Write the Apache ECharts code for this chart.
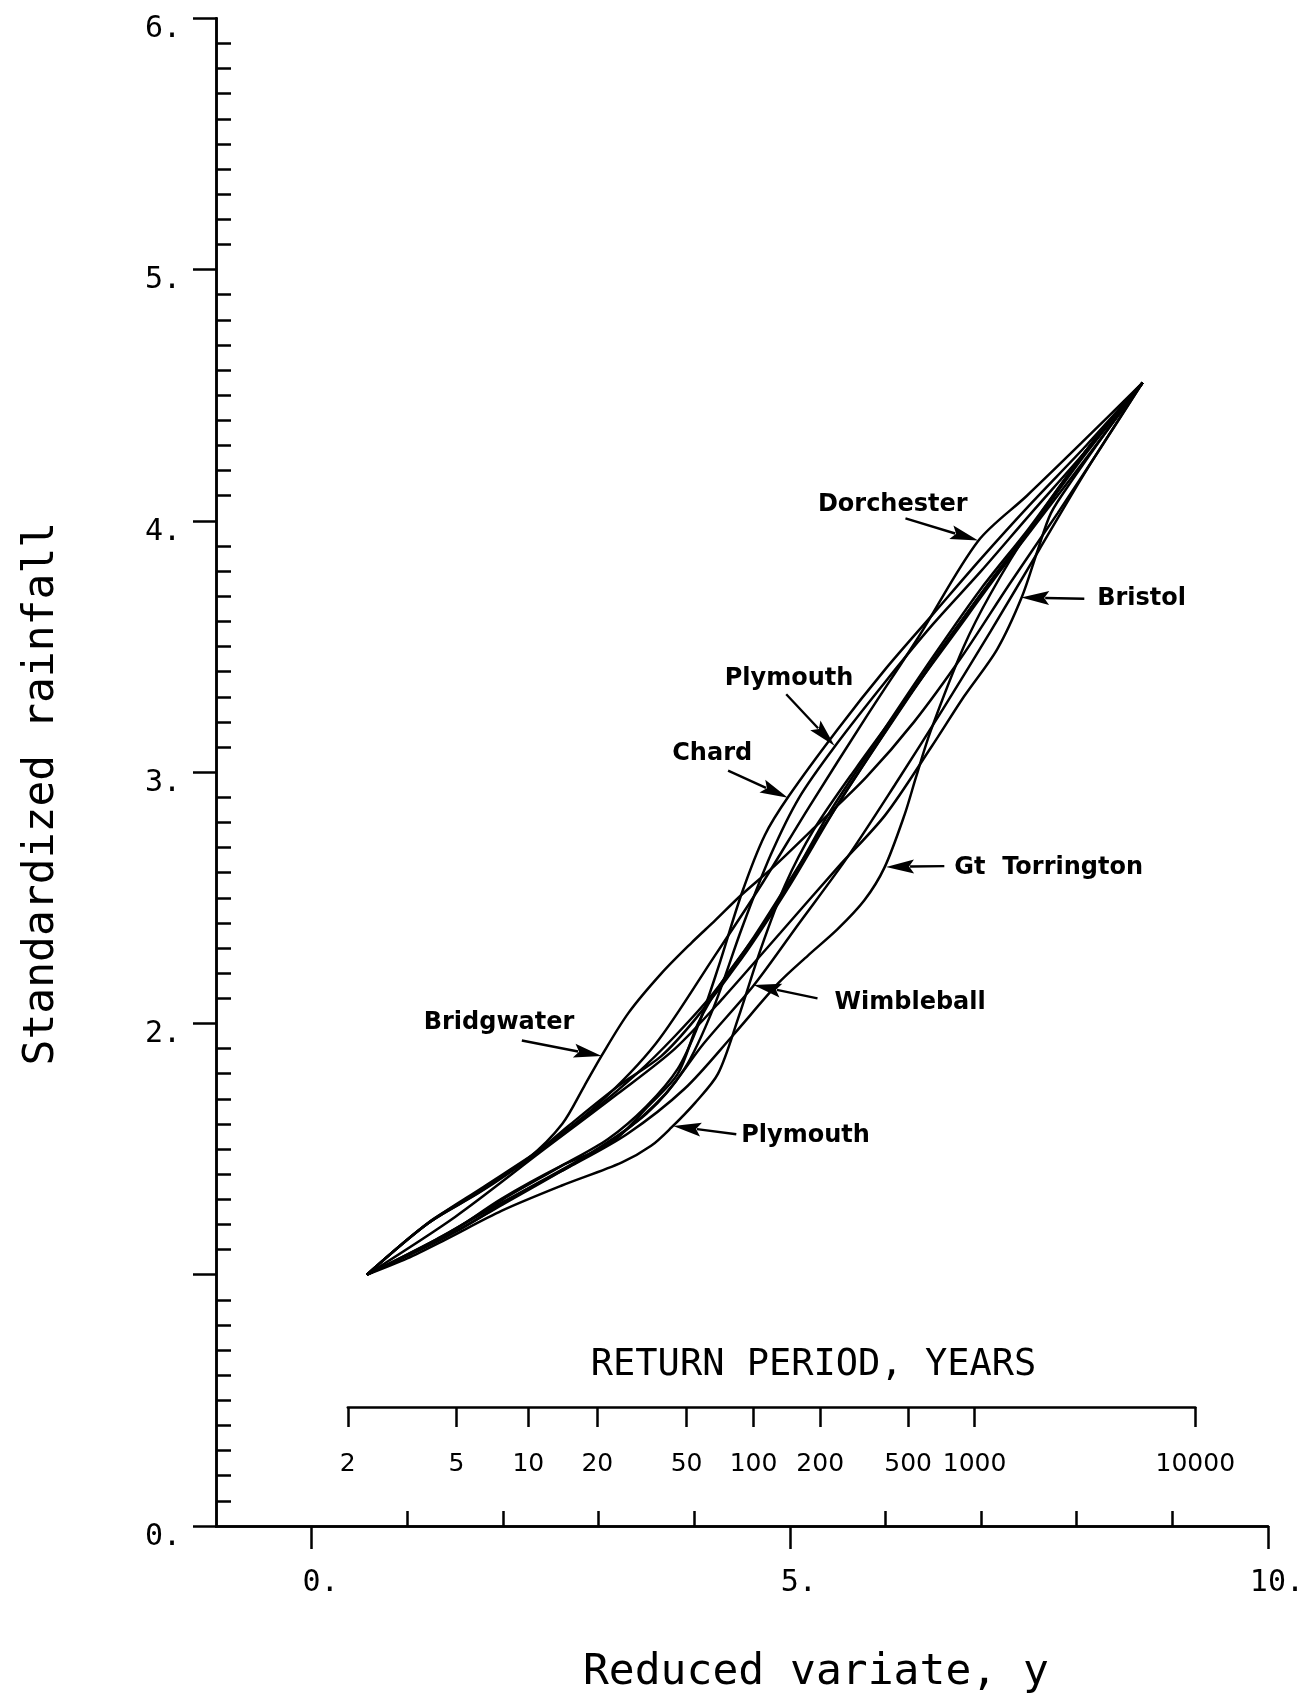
<!DOCTYPE html>
<html>
<head>
<meta charset="utf-8">
<script src="https://cdn.jsdelivr.net/npm/echarts@6/dist/echarts.min.js"></script>
<style>
html,body{margin:0;padding:0;background:#ffffff;}
#chart{width:1307px;height:1699px;}
</style>
</head>
<body>
<div id="chart"></div>
<script>
// ---------------- data ----------------
// reduced variate (x) , standardized rainfall (y)
const bridgwater = [[0.577,1.00],[1.23,1.21],[1.75,1.33],[2.27,1.465],[2.62,1.60],[2.85,1.75],[3.03,1.87],[3.31,2.04],[3.66,2.20],[3.97,2.32],[4.22,2.41],[4.49,2.51],[4.85,2.63],[5.26,2.78],[5.8,2.98],[6.3,3.2],[6.8,3.46],[7.3,3.75],[7.8,4.03],[8.25,4.29],[8.69,4.55]];
const dorchester = [[0.577,1.00],[1.2,1.2],[1.8,1.34],[2.4,1.5],[3.0,1.68],[3.6,1.92],[4.2,2.26],[4.7,2.55],[5.2,2.86],[5.8,3.22],[6.35,3.54],[6.97,3.92],[7.48,4.10],[8.05,4.31],[8.69,4.55]];
const chard = [[0.577,1.00],[1.4,1.16],[2.0,1.30],[2.6,1.43],[3.1,1.54],[3.5,1.67],[3.83,1.82],[4.05,2.0],[4.25,2.22],[4.5,2.52],[4.74,2.75],[4.99,2.905],[5.5,3.17],[6.0,3.41],[6.5,3.63],[7.0,3.85],[7.5,4.06],[8.1,4.30],[8.69,4.55]];
const plymouthUpper = [[0.577,1.00],[1.5,1.17],[2.2,1.33],[2.9,1.48],[3.5,1.64],[3.9,1.82],[4.2,2.06],[4.5,2.38],[4.8,2.67],[5.1,2.9],[5.48,3.107],[6.0,3.36],[6.5,3.59],[7.0,3.80],[7.5,4.02],[8.1,4.28],[8.69,4.55]];
const plymouthLower = [[0.577,1.00],[1.0,1.065],[1.4,1.14],[1.99,1.255],[2.61,1.354],[3.24,1.446],[3.55,1.513],[3.76,1.585],[4.01,1.684],[4.25,1.80],[4.46,2.02],[4.7,2.3],[4.95,2.55],[5.25,2.77],[5.7,3.02],[6.2,3.28],[6.7,3.54],[7.2,3.80],[7.7,4.05],[8.2,4.30],[8.69,4.55]];
const gtTorrington = [[0.577,1.00],[1.3,1.14],[2.0,1.29],[2.7,1.43],[3.3,1.56],[3.9,1.74],[4.4,1.95],[4.88,2.16],[5.19,2.27],[5.5,2.375],[5.78,2.49],[5.99,2.62],[6.2,2.83],[6.32,2.98],[6.47,3.16],[6.82,3.50],[7.1,3.71],[7.5,3.96],[8.1,4.28],[8.69,4.55]];
const bristol = [[0.577,1.00],[1.5,1.23],[2.4,1.49],[3.2,1.72],[3.8,1.9],[4.3,2.1],[4.9,2.36],[5.5,2.62],[6.0,2.83],[6.48,3.10],[6.82,3.30],[7.17,3.49],[7.43,3.70],[7.59,3.88],[7.73,4.03],[7.95,4.16],[8.3,4.35],[8.69,4.55]];
const wimbleball = [[0.577,1.00],[1.4,1.15],[2.0,1.28],[2.6,1.41],[3.2,1.55],[3.7,1.72],[4.1,1.92],[4.62,2.15],[5.1,2.40],[5.6,2.66],[6.1,2.95],[6.6,3.25],[7.1,3.56],[7.6,3.88],[8.1,4.2],[8.69,4.55]];
const stationA = [[0.577,1.00],[1.226,1.207],[1.75,1.326],[2.27,1.461],[2.685,1.592],[3.207,1.751],[3.656,1.87],[4.01,2.016],[4.5,2.26],[5.0,2.55],[5.5,2.87],[6.0,3.16],[6.5,3.44],[7.0,3.71],[7.5,3.96],[8.1,4.27],[8.69,4.55]];
const stationB = [[0.577,1.00],[1.40,1.156],[1.985,1.302],[2.61,1.433],[3.13,1.524],[3.52,1.671],[3.83,1.80],[4.04,2.0],[4.3,2.17],[4.74,2.40],[5.0,2.56],[5.4,2.83],[5.9,3.12],[6.5,3.46],[7.0,3.73],[7.5,3.97],[8.1,4.28],[8.69,4.55]];
const stationC = [[0.577,1.00],[1.2,1.2],[1.8,1.35],[2.4,1.50],[2.9,1.64],[3.4,1.80],[3.8,1.95],[4.2,2.12],[4.6,2.33],[5.1,2.63],[5.6,2.93],[6.1,3.22],[6.6,3.50],[7.1,3.76],[7.6,4.01],[8.1,4.28],[8.69,4.55]];

// return period axis
const returnPeriods = [2,5,10,20,50,100,200,500,1000,10000];

// main axis ticks
const xMajorTicks = [0,5,10];
const xMinorTicks = [1,2,3,4,6,7,8,9];

// annotations
const annotationNames = ['Dorchester','Bristol','Plymouth','Chard','Gt  Torrington','Wimbleball','Bridgwater','Plymouth'];
const labelAt   = [[5.294,4.063],[8.215,3.689],[4.320,3.370],[3.771,3.073],[6.720,2.620],[5.468,2.084],[1.172,2.002],[4.493,1.552]];
const arrowFrom = [[6.21,4.01],[8.08,3.69],[4.963,3.31],[4.355,3.006],[6.616,2.626],[5.29,2.10],[2.198,1.932],[4.441,1.559]];
const arrowTo   = [[6.97,3.922],[7.42,3.695],[5.468,3.105],[4.98,2.898],[6.007,2.623],[4.62,2.153],[3.033,1.870],[3.781,1.592]];

// ---------------- chart ----------------
const stationSeries = [
  ['Bridgwater', bridgwater], ['Dorchester', dorchester], ['Chard', chard],
  ['Plymouth (upper)', plymouthUpper], ['Plymouth (lower)', plymouthLower],
  ['Gt Torrington', gtTorrington], ['Bristol', bristol], ['Wimbleball', wimbleball],
  ['Station A', stationA], ['Station B', stationB], ['Station C', stationC]
];

const gumbel = T => -Math.log(-Math.log(1 - 1 / T));
const returnPos = returnPeriods.map(gumbel);
const minorY = [];
for (let i = 1; i < 60; i++) { if (i % 10) minorY.push(i / 10); }

const MONO = "'DejaVu Sans Mono', monospace";
const AX = {color:'#000', width:2.5};

const chart = echarts.init(document.getElementById('chart'), null, {renderer:'canvas'});

const lineSeries = stationSeries.map(([name, data]) => ({
  name, type:'line', xAxisIndex:0, yAxisIndex:0, data,
  smooth:0.3, showSymbol:false, symbol:'none',
  lineStyle:{color:'#000', width:2.5}, silent:true, z:3
}));

const annData = annotationNames.map((n, i) => ({
  name:n,
  value:[arrowFrom[i][0], arrowFrom[i][1], arrowTo[i][0], arrowTo[i][1], labelAt[i][0], labelAt[i][1]]
}));

const annSeries = {
  type:'custom', xAxisIndex:0, yAxisIndex:0, silent:true, z:5,
  encode:{x:[0,2,4], y:[1,3,5]},
  data:annData,
  renderItem:function(params, api){
    const p1 = api.coord([api.value(0), api.value(1)]);
    const p2 = api.coord([api.value(2), api.value(3)]);
    const lp = api.coord([api.value(4), api.value(5)]);
    const dx = p2[0]-p1[0], dy = p2[1]-p1[1];
    const len = Math.sqrt(dx*dx+dy*dy);
    const ux = dx/len, uy = dy/len;
    const L = 28, W = 7;
    const bx = p2[0]-ux*L, by = p2[1]-uy*L;
    const nx = -uy, ny = ux;
    return {
      type:'group',
      children:[
        {type:'line', shape:{x1:p1[0], y1:p1[1], x2:bx+ux*4, y2:by+uy*4}, style:{stroke:'#000', lineWidth:2.4}},
        {type:'polygon', shape:{points:[[p2[0],p2[1]],[bx+nx*W,by+ny*W],[bx+ux*5,by+uy*5],[bx-nx*W,by-ny*W]]}, style:{fill:'#000'}},
        {type:'text', x:lp[0], y:lp[1], style:{text:annotationNames[params.dataIndex], fill:'#000',
          font:"bold 24px 'DejaVu Sans', sans-serif", align:'left', verticalAlign:'middle'}}
      ]
    };
  }
};

const option = {
  animation:false,
  backgroundColor:'#ffffff',
  grid:[
    {left:216, top:18.3, width:1055, height:1513.2, containLabel:false},
    {left:347.8, top:1407, width:847.5, height:10, containLabel:false}
  ],
  xAxis:[
    {gridIndex:0, type:'value', position:'bottom', min:-1, max:10,
     axisLine:{show:true, onZero:false, lineStyle:AX},
     axisTick:{show:true, inside:false, length:23, customValues:xMajorTicks, lineStyle:AX},
     axisLabel:{show:true, customValues:xMajorTicks, formatter:v => v + '.', margin:42,
       fontFamily:MONO, fontSize:30, color:'#000', padding:[0,0,0,18]},
     splitLine:{show:false},
     name:'Reduced variate, y', nameLocation:'middle', nameGap:125,
     nameTextStyle:{fontFamily:MONO, fontSize:43, color:'#000', padding:[0,0,0,148]}},
    {gridIndex:0, type:'value', position:'bottom', min:-1, max:10,
     axisLine:{show:true, onZero:false, lineStyle:AX},
     axisTick:{show:true, inside:true, length:15, customValues:xMinorTicks, lineStyle:AX},
     axisLabel:{show:false}, splitLine:{show:false}},
    {gridIndex:1, type:'value', position:'top', min:returnPos[0], max:returnPos[returnPos.length-1],
     axisLine:{show:true, onZero:false, lineStyle:AX},
     axisTick:{show:true, inside:true, length:20, customValues:returnPos, lineStyle:AX},
     axisLabel:{show:true, inside:true, margin:45, customValues:returnPos,
       formatter:function(v){
         for (let i = 0; i < returnPos.length; i++) { if (Math.abs(returnPos[i]-v) < 1e-6) return String(returnPeriods[i]); }
         return '';
       },
       fontFamily:"'DejaVu Sans', sans-serif", fontSize:25, color:'#000'},
     splitLine:{show:false},
     name:'RETURN PERIOD, YEARS', nameLocation:'middle', nameGap:23,
     nameTextStyle:{fontFamily:MONO, fontSize:37, color:'#000', padding:[0,0,0,84]}}
  ],
  yAxis:[
    {gridIndex:0, type:'value', position:'left', min:0, max:6, interval:1,
     axisLine:{show:true, onZero:false, lineStyle:AX},
     axisTick:{show:true, inside:false, length:23, lineStyle:AX},
     axisLabel:{show:true, formatter:v => (v === 1 ? '' : v + '.'), margin:35,
       fontFamily:MONO, fontSize:30, color:'#000', verticalAlign:'top', lineHeight:22},
     splitLine:{show:false},
     name:'Standardized rainfall', nameLocation:'middle', nameGap:153,
     nameTextStyle:{fontFamily:MONO, fontSize:43, color:'#000', padding:[0,43,0,0]}},
    {gridIndex:0, type:'value', position:'left', min:0, max:6,
     axisLine:{show:true, onZero:false, lineStyle:AX},
     axisTick:{show:true, inside:true, length:15, customValues:minorY, lineStyle:AX},
     axisLabel:{show:false}, splitLine:{show:false}},
    {gridIndex:1, type:'value', show:false, min:0, max:1}
  ],
  series: lineSeries.concat([annSeries])
};

chart.setOption(option);
</script>
</body>
</html>
